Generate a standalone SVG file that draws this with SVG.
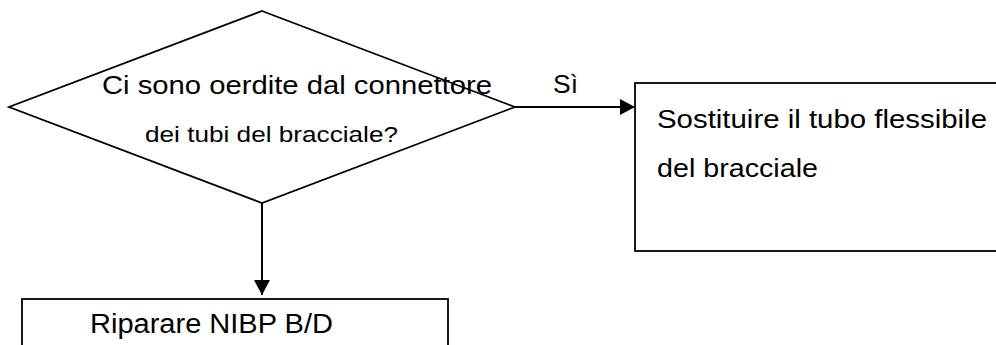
<svg xmlns="http://www.w3.org/2000/svg" width="996" height="345" viewBox="0 0 996 345">
<style>
.shape{fill:#fff;stroke:#000;stroke-width:1.8}
.conn{fill:none;stroke:#000;stroke-width:2}
.t{font-family:"Liberation Sans",Arial,sans-serif;fill:#000}
</style>
<defs>
<marker id="ah" markerWidth="15" markerHeight="16" refX="15" refY="8" orient="auto" markerUnits="userSpaceOnUse">
<path d="M0,0 L15,8 L0,16 Z" fill="#000"/>
</marker>
</defs>
<rect width="996" height="345" fill="#fff"/>
<g id="decision">
<polygon class="shape" points="262,11 515,107 262,203 9,107"/>
<text class="t" x="102" y="94" font-size="26.5" textLength="390" lengthAdjust="spacingAndGlyphs">Ci sono oerdite dal connettore</text>
<text class="t" x="145" y="142" font-size="22.5" textLength="253" lengthAdjust="spacingAndGlyphs">dei tubi del bracciale?</text>
</g>
<g id="replace">
<rect class="shape" x="635" y="83" width="380" height="168"/>
<text class="t" x="657" y="128" font-size="26.5" textLength="330" lengthAdjust="spacingAndGlyphs">Sostituire il tubo flessibile</text>
<text class="t" x="657" y="177" font-size="26.5" textLength="161" lengthAdjust="spacingAndGlyphs">del bracciale</text>
</g>
<g id="repair">
<rect class="shape" x="22" y="299" width="426" height="60"/>
<text class="t" x="90" y="333" font-size="27" textLength="243" lengthAdjust="spacingAndGlyphs">Riparare NIBP B/D</text>
</g>
<g id="connectors">
<line class="conn" x1="515" y1="107" x2="635" y2="107" marker-end="url(#ah)"/>
<text class="t" x="553" y="93" font-size="26.5" textLength="25" lengthAdjust="spacingAndGlyphs">Sì</text>
<line class="conn" x1="262" y1="203" x2="262" y2="295" marker-end="url(#ah)"/>
</g>
</svg>
